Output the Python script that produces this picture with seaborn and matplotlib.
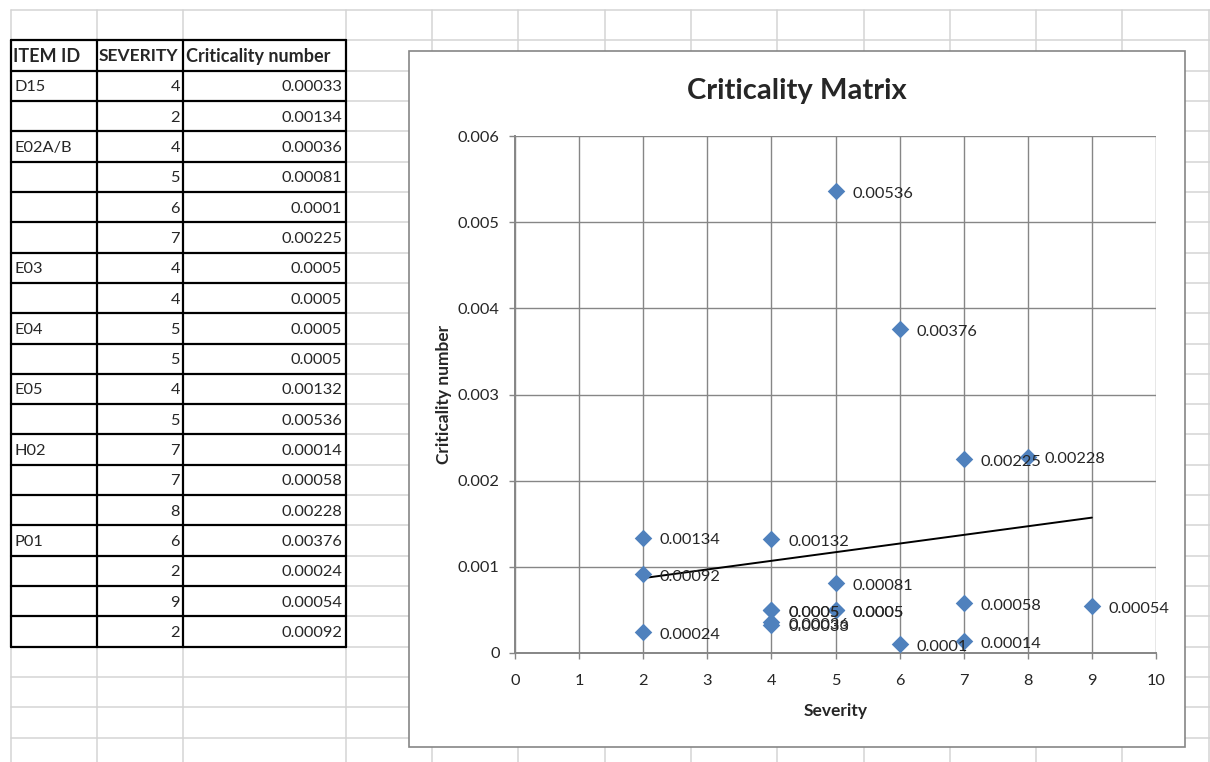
import numpy as np
import pandas as pd
import matplotlib
matplotlib.use("Agg")
import matplotlib.pyplot as plt
import seaborn as sns
from matplotlib.patches import Rectangle
from matplotlib.ticker import FuncFormatter, MultipleLocator

# table / chart data
item_ids = ["D15", "", "E02A/B", "", "", "", "E03", "", "E04", "", "E05", "", "H02", "", "", "P01", "", "", ""]
severity = [4, 2, 4, 5, 6, 7, 4, 4, 5, 5, 4, 5, 7, 7, 8, 6, 2, 9, 2]
criticality = [0.00033, 0.00134, 0.00036, 0.00081, 0.0001, 0.00225, 0.0005, 0.0005, 0.0005, 0.0005,
               0.00132, 0.00536, 0.00014, 0.00058, 0.00228, 0.00376, 0.00024, 0.00054, 0.00092]
headers = ["ITEM ID", "SEVERITY", "Criticality number"]

df = pd.DataFrame({"Severity": severity, "Criticality number": criticality})

sns.set_style("white")
plt.rcParams["font.family"] = ["Lato", "DejaVu Sans"]

W, H = 1210, 762
fig = plt.figure(figsize=(W / 100, H / 100), dpi=100)

# spreadsheet background (pixel coordinates)
bg = fig.add_axes([0, 0, 1, 1])
bg.set_xlim(0, W)
bg.set_ylim(H, 0)
bg.axis("off")

row_h = 30.32
col_x = [11, 97, 183, 346, 432, 518, 605, 691, 777, 864, 950, 1036, 1122, 1209]
grid_c = "#d4d4d4"
for k in range(26):
    y = 10 + row_h * k
    if y > H:
        break
    bg.plot([11, W], [y, y], color=grid_c, lw=1.1, zorder=1)
for x in col_x:
    bg.plot([x, x], [10, H], color=grid_c, lw=1.1, zorder=1)

# the table
top = 10 + row_h
n_rows = len(severity) + 1
tab_x = [11, 97, 183, 346]
for k in range(n_rows + 1):
    y = top + row_h * k
    bg.plot([tab_x[0], tab_x[-1]], [y, y], color="black", lw=1.6, zorder=2)
for x in tab_x:
    bg.plot([x, x], [top, top + row_h * n_rows], color="black", lw=1.6, zorder=2)

fs_cell = 11.8
fs_head = 13
yc = top + row_h / 2 + 1
bg.text(13, yc, headers[0], fontsize=fs_head, fontweight="bold", va="center", ha="left")
bg.text(99, yc, headers[1], fontsize=fs_head - 0.5, fontweight="bold", va="center", ha="left")
bg.text(186, yc, headers[2], fontsize=fs_head, fontweight="bold", va="center", ha="left")
for i, (iid, s, c) in enumerate(zip(item_ids, severity, criticality)):
    yc = top + row_h * (i + 1) + row_h / 2 + 1.5
    if iid:
        bg.text(14, yc, iid, fontsize=fs_cell, va="center", ha="left")
    bg.text(180, yc, str(s), fontsize=fs_cell, va="center", ha="right")
    bg.text(342, yc, str(c), fontsize=fs_cell, va="center", ha="right")

# chart area
bg.add_patch(Rectangle((409, 51), 1185 - 409, 747 - 51, facecolor="white",
                       edgecolor="#868686", lw=1.2, zorder=5))
bg.text(797, 91, "Criticality Matrix", fontsize=21, fontweight="bold",
        ha="center", va="center", zorder=6)

# plot area
left, right, ptop, pbot = 515, 1156, 136, 653
ax = fig.add_axes([left / W, 1 - pbot / H, (right - left) / W, (pbot - ptop) / H])
ax.set_facecolor("none")

sns.scatterplot(data=df, x="Severity", y="Criticality number", marker="D", s=80,
                color="#4f81bd", edgecolor="#4f81bd", linewidth=0, zorder=4, ax=ax)
sns.regplot(data=df, x="Severity", y="Criticality number", scatter=False, ci=None,
            truncate=True, color="black", line_kws={"lw": 1.4, "zorder": 3}, ax=ax)

for s, c in zip(severity, criticality):
    ax.annotate(str(c), (s, c), xytext=(12, -2), textcoords="offset points",
                fontsize=fs_cell, va="center", ha="left", zorder=5)

ax.set_xlim(0, 10)
ax.set_ylim(0, 0.006)
ax.xaxis.set_major_locator(MultipleLocator(1))
ax.yaxis.set_major_locator(MultipleLocator(0.001))
ax.yaxis.set_major_formatter(FuncFormatter(lambda v, p: f"{v:g}"))
ax.grid(True, color="#868686", lw=1.0)
ax.set_axisbelow(True)
for sp in ["top", "right"]:
    ax.spines[sp].set_visible(False)
for sp in ["left", "bottom"]:
    ax.spines[sp].set_color("#868686")
    ax.spines[sp].set_linewidth(1.4)
ax.tick_params(axis="both", which="major", direction="out", length=4, width=1,
               color="#868686", labelsize=fs_cell, left=True, bottom=True)
ax.tick_params(axis="x", pad=11)
ax.tick_params(axis="y", pad=7)
ax.set_xlabel("Severity", fontsize=12.5, fontweight="bold", labelpad=11)
ax.set_ylabel("Criticality number", fontsize=12.5, fontweight="bold", labelpad=4)

fig.savefig("out.png", dpi=100)
